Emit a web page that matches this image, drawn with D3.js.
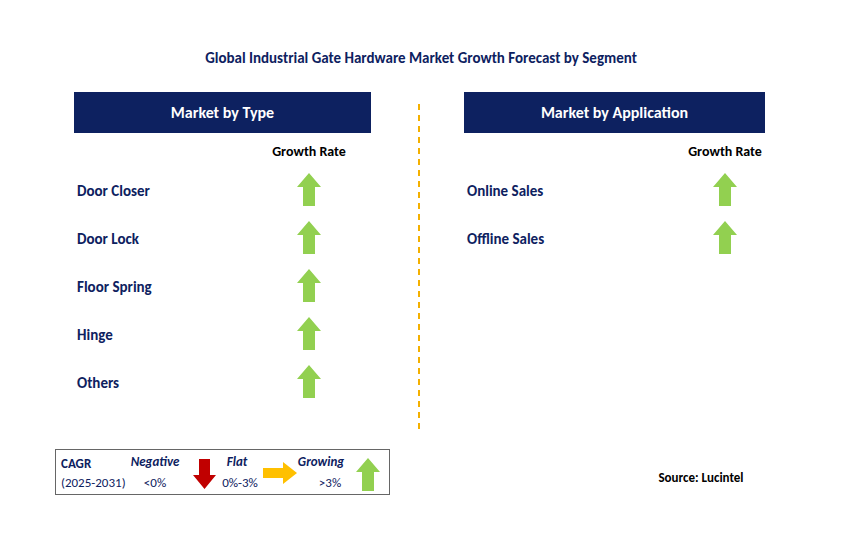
<!DOCTYPE html>
<html><head><meta charset="utf-8">
<script src="https://cdn.jsdelivr.net/npm/d3@7"></script>
<style>body{margin:0;background:#fff}text{font-family:Calibri,Carlito,"Open Sans",Arial,sans-serif}</style>
</head><body><svg id="c" width="866" height="558"></svg>
<script>
const title = "Global Industrial Gate Hardware Market Growth Forecast by Segment";
const typeCategories = ["Door Closer","Door Lock","Floor Spring","Hinge","Others"];
const typeGrowth = ["Growing","Growing","Growing","Growing","Growing"];
const appCategories = ["Online Sales","Offline Sales"];
const appGrowth = ["Growing","Growing"];
const legendItems = [["Negative","<0%"],["Flat","0%-3%"],["Growing",">3%"]];

const svg = d3.select("#c");
const navy = "#0d2160", green = "#92d050";
const font = "Arial, 'Liberation Sans', sans-serif";
svg.append("text").attr("x",421).attr("y",63).attr("text-anchor","middle")
  .attr("font-family",font).attr("font-weight","bold").attr("font-size",15).attr("fill",navy).text(title);

function upArrow(g,cx,cy){
  g.append("path").attr("fill",green)
   .attr("d",`M${cx},${cy-17} L${cx+12},${cy-3} L${cx+6},${cy-3} L${cx+6},${cy+16} L${cx-6},${cy+16} L${cx-6},${cy-3} L${cx-12},${cy-3} Z`);
}
const y = d3.scalePoint().domain(d3.range(5)).range([190,382]);

function panel(x0,w,header,cats,growth,arrowX){
  svg.append("rect").attr("x",x0).attr("y",92).attr("width",w).attr("height",41).attr("fill",navy);
  svg.append("text").attr("x",x0+w/2).attr("y",118).attr("text-anchor","middle").attr("fill","#fff")
    .attr("font-family",font).attr("font-weight","bold").attr("font-size",16).text(header);
  svg.append("text").attr("x",arrowX).attr("y",156).attr("text-anchor","middle").attr("fill","#000")
    .attr("font-weight","bold").attr("font-size",14).text("Growth Rate");
  cats.forEach((c,i)=>{
    svg.append("text").attr("x",x0+3).attr("y",y(i)+6).attr("fill",navy).attr("font-family",font)
      .attr("font-weight","bold").attr("font-size",15).text(c);
    if(growth[i]==="Growing") upArrow(svg,arrowX,y(i));
  });
}
panel(74,297,"Market by Type",typeCategories,typeGrowth,309);
panel(464,301,"Market by Application",appCategories,appGrowth,725);

svg.append("line").attr("x1",419).attr("x2",419).attr("y1",104).attr("y2",433)
  .attr("stroke","#f4b000").attr("stroke-width",2).attr("stroke-dasharray","6,5");

// legend
const L = svg.append("g");
L.append("rect").attr("x",55.5).attr("y",449.5).attr("width",334).attr("height",45).attr("fill","#fff").attr("stroke","#666");
L.append("text").attr("x",61).attr("y",468).attr("fill",navy).attr("font-weight","bold").attr("font-size",13).text("CAGR");
L.append("text").attr("x",61).attr("y",487).attr("fill",navy).attr("font-size",13).text("(2025-2031)");
const lx=[155,237,321];
legendItems.forEach((d,i)=>{
  L.append("text").attr("x",lx[i]).attr("y",466).attr("text-anchor","middle").attr("fill",navy)
   .attr("font-weight","bold").attr("font-style","italic").attr("font-size",13).text(d[0]);
  L.append("text").attr("x",[155,240,330][i]).attr("y",487).attr("text-anchor","middle").attr("fill",navy)
   .attr("font-size",13).text(d[1]);
});
L.append("path").attr("fill","#c00000").attr("d","M199,459 L210,459 L210,475 L216,475 L204.5,489 L193,475 L199,475 Z");
L.append("path").attr("fill","#ffc000").attr("d","M263,468 L283,468 L283,462 L297,473 L283,484 L283,478 L263,478 Z");
upArrow(L,368,475);
svg.append("text").attr("x",701).attr("y",482).attr("text-anchor","middle").attr("fill","#000")
  .attr("font-weight","bold").attr("font-size",13).text("Source: Lucintel");
</script></body></html>
